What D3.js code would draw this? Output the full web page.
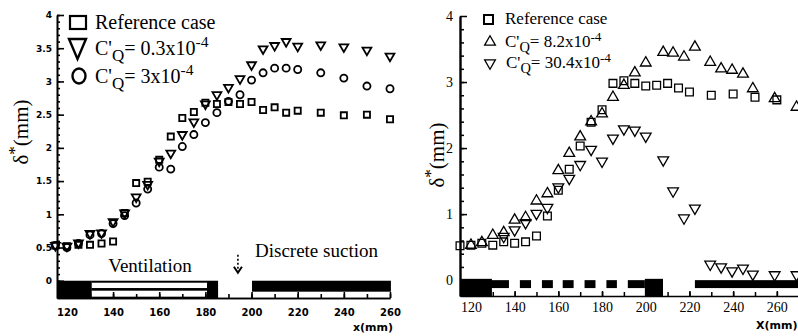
<!DOCTYPE html>
<html>
<head>
<meta charset="utf-8">
<script src="https://cdn.jsdelivr.net/npm/d3@7"></script>
<style>
  body { margin: 0; background: #fff; }
  svg { display: block; }
  text { fill: #000; }
</style>
</head>
<body>
<svg id="chart" width="798" height="336"></svg>
<script>
// ---- left panel data (x in mm, delta* in mm) ----
const leftX   = [115,120,125,130,135,140,145,150,155,160,165,170,175,180,185,190,195,200,205,210,215,220,230,240,250,260];
const leftRef = [0.53,0.52,0.54,0.54,0.56,0.59,1.02,1.47,1.49,1.82,2.17,2.45,2.54,2.68,2.66,2.69,2.66,2.69,2.57,2.61,2.53,2.56,2.53,2.49,2.50,2.43];
const leftCq03 = [0.53,0.52,0.57,0.71,0.72,0.89,1.02,1.26,1.45,1.80,1.92,2.20,2.39,2.66,2.80,2.91,3.04,3.25,3.49,3.54,3.60,3.53,3.55,3.52,3.47,3.38];
const leftCq3  = [0.53,0.50,0.56,0.69,0.71,0.86,0.98,1.17,1.38,1.71,1.68,2.02,2.20,2.38,2.53,2.70,2.80,3.02,3.13,3.20,3.20,3.18,3.13,3.05,2.93,2.89];
const leftYTicks = [0,0.5,1,1.5,2,2.5,3,3.5,4];
const leftXTicks = [120,140,160,180,200,220,240,260];

// plate layout on the left (mm)
const leftSolid   = [[115.7,130.8],[180.7,185.5]];
const leftVent    = [[130.8,180.7]];
const leftSuction = [[200.2,260.4]];

// ---- right panel data ----
const rightRefX = [115,120,125,130,135,140,145,150,155,160,165,170,175,180,185,190,195,200,205,210,215,220,230,240,250,260];
const rightRef  = [0.52,0.53,0.56,0.53,0.58,0.56,0.58,0.67,0.97,1.36,1.68,2.03,2.39,2.58,2.98,3.02,2.98,2.94,2.95,2.98,2.91,2.85,2.80,2.82,2.77,2.73];
const rightUpX  = [120,125,130,135,140,145,150,155,160,165,170,175,180,185,190,195,200,208,212.5,217.5,222.5,229.5,234.5,239.5,244.5,249,259,269];
const rightCq82 = [0.53,0.57,0.68,0.72,0.91,0.95,1.20,1.31,1.66,1.92,2.17,2.40,2.52,2.77,2.95,3.14,3.29,3.45,3.44,3.38,3.53,3.30,3.20,3.18,3.12,2.90,2.75,2.62];
const rightDnX  = [135,140,145,150,155,160,165,170,175,180,185,190,195,200,208,212.5,217.5,222.5,229.5,234.5,239.5,244.5,249,259,269];
const rightCq304 = [0.66,0.76,0.87,1.01,1.10,1.41,1.54,1.75,1.98,1.80,2.15,2.29,2.27,2.18,1.82,1.35,0.94,1.09,0.24,0.20,0.14,0.18,0.09,0.08,0.08];
const rightYTicks = [0,1,2,3,4];
const rightXTicks = [120,140,160,180,200,220,240,260];

const rightTall = [[115,129.6],[199.6,207.9]];
const rightThin = [[115,137.4],[142.4,147.5],[152.5,157.5],[162,167],[172,177],[182,186.8],[191.8,199.6],[222.5,270]];

const svg = d3.select("#chart");
const serif = "'Liberation Serif', 'Times New Roman', serif";
const plain = d => String(d);

// scales
const xL = d3.scaleLinear().domain([115.7, 260]).range([57, 390]);
const yL = d3.scaleLinear().domain([-0.26, 4]).range([298, 15]);
const xR = d3.scaleLinear().domain([115, 270]).range([460, 798.7]);
const yR = d3.scaleLinear().domain([-0.24, 4]).range([296, 16]);

// ================= LEFT PANEL =================
let gL = svg.append("g");

// plate bars
gL.selectAll(".solid").data(leftSolid).enter().append("rect")
  .attr("x", d => xL(d[0])).attr("width", d => xL(d[1]) - xL(d[0]))
  .attr("y", yL(0)).attr("height", yL(-0.26) - yL(0)).attr("fill", "#000");
leftVent.forEach(function(v) {
  gL.append("rect").attr("x", xL(v[0])).attr("width", xL(v[1]) - xL(v[0]))
    .attr("y", yL(0)).attr("height", yL(-0.26) - yL(0)).attr("fill", "#000");
  [[-0.03,-0.11],[-0.15,-0.24]].forEach(function(s) {
    gL.append("rect").attr("x", xL(v[0])).attr("width", xL(v[1]) - xL(v[0]))
      .attr("y", yL(s[0])).attr("height", yL(s[1]) - yL(s[0])).attr("fill", "#fff");
  });
});
gL.selectAll(".suct").data(leftSuction).enter().append("rect")
  .attr("x", d => xL(d[0])).attr("width", d => xL(d[1]) - xL(d[0]))
  .attr("y", yL(0)).attr("height", yL(-0.165) - yL(0)).attr("fill", "#000");

// axes
gL.append("g").attr("transform", "translate(" + xL.range()[0] + ",0)")
  .call(d3.axisLeft(yL).tickValues(d3.range(-0.2, 4.01, 0.1)).tickSizeInner(-3).tickSizeOuter(0).tickFormat(""));
let yAxL = gL.append("g").attr("transform", "translate(" + xL.range()[0] + ",0)")
  .call(d3.axisLeft(yL).tickValues(leftYTicks).tickSizeInner(-7).tickSizeOuter(0).tickPadding(5).tickFormat(plain));
yAxL.selectAll("text").attr("font-family", "'DejaVu Sans', sans-serif").attr("font-size", 9).attr("font-weight", "bold");

gL.append("g").attr("transform", "translate(0," + yL.range()[0] + ")")
  .call(d3.axisBottom(xL).tickValues(d3.range(120, 261, 10)).tickSizeInner(-4).tickSizeOuter(0).tickFormat(""));
let xAxL = gL.append("g").attr("transform", "translate(0," + yL.range()[0] + ")")
  .call(d3.axisBottom(xL).tickValues(leftXTicks).tickSizeInner(-6).tickSizeOuter(0).tickPadding(11).tickFormat(plain));
xAxL.selectAll("text").attr("font-family", "'DejaVu Sans', sans-serif").attr("font-size", 10).attr("font-weight", "bold");
gL.selectAll(".domain, .tick line").attr("stroke", "#000").attr("stroke-width", 1.6);

// markers
const sq = d3.symbol().type(d3.symbolSquare);
const tri = d3.symbol().type(d3.symbolTriangle);
const circ = d3.symbol().type(d3.symbolCircle);

gL.selectAll(".lref").data(leftX).enter().append("path")
  .attr("d", sq.size(38)())
  .attr("transform", (d, i) => "translate(" + xL(d) + "," + yL(leftRef[i]) + ")")
  .attr("fill", "none").attr("stroke", "#000").attr("stroke-width", 1.8);
gL.selectAll(".ltri").data(leftX).enter().append("path")
  .attr("d", tri.size(34)())
  .attr("transform", (d, i) => "translate(" + xL(d) + "," + yL(leftCq03[i]) + ") rotate(180)")
  .attr("fill", "none").attr("stroke", "#000").attr("stroke-width", 1.8);
gL.selectAll(".lcirc").data(leftX).enter().append("path")
  .attr("d", circ.size(40)())
  .attr("transform", (d, i) => "translate(" + xL(d) + "," + yL(leftCq3[i]) + ")")
  .attr("fill", "none").attr("stroke", "#000").attr("stroke-width", 1.8);

// annotations
gL.append("text").attr("x", xL(156)).attr("y", yL(0.13)).attr("text-anchor", "middle")
  .attr("font-family", serif).attr("font-size", 19).text("Ventilation");
gL.append("text").attr("x", xL(201.5)).attr("y", yL(0.36))
  .attr("font-family", serif).attr("font-size", 19).text("Discrete suction");
// dashed arrow
let ax = xL(194.1);
gL.append("line").attr("x1", ax).attr("x2", ax).attr("y1", yL(0.39)).attr("y2", yL(0.14))
  .attr("stroke", "#000").attr("stroke-width", 1.6).attr("stroke-dasharray", "2,2");
gL.append("path").attr("d", "M" + (ax - 4) + "," + (yL(0.12) - 6) + "L" + ax + "," + yL(0.12) + "L" + (ax + 4) + "," + (yL(0.12) - 6))
  .attr("fill", "none").attr("stroke", "#000").attr("stroke-width", 2);

gL.append("text").attr("x", 353).attr("y", 331).attr("font-family", "'DejaVu Sans', sans-serif")
  .attr("font-size", 11).attr("font-weight", "bold").text("x(mm)");

// y label
let ylabL = gL.append("text").attr("transform", "translate(28,132) rotate(-90)").attr("text-anchor", "middle")
  .attr("font-family", serif).attr("font-size", 21);
ylabL.append("tspan").text("δ");
ylabL.append("tspan").attr("dy", -8).attr("font-size", 17).text("*");
ylabL.append("tspan").attr("dy", 8).text("(mm)");

// legend helper: C'Q = value x10^-4
function cqText(g, x, y, size, val) {
  let t = g.append("text").attr("x", x).attr("y", y).attr("font-family", serif).attr("font-size", size);
  t.append("tspan").text("C'");
  t.append("tspan").attr("dy", size * 0.3).attr("font-size", size * 0.85).text("Q");
  t.append("tspan").attr("dy", -size * 0.3).text("= " + val + "x10");
  t.append("tspan").attr("dy", -size * 0.38).attr("font-size", size * 0.78).text("-4");
}

// left legend
gL.append("rect").attr("x", 70).attr("y", 16).attr("width", 16).attr("height", 13)
  .attr("fill", "none").attr("stroke", "#000").attr("stroke-width", 2.2);
gL.append("path").attr("d", "M69,39L86,39L77.5,59Z").attr("fill", "none").attr("stroke", "#000").attr("stroke-width", 2.4);
gL.append("ellipse").attr("cx", 79).attr("cy", 76).attr("rx", 6.5).attr("ry", 7.5)
  .attr("fill", "none").attr("stroke", "#000").attr("stroke-width", 2.4);
gL.append("text").attr("x", 95).attr("y", 29).attr("font-family", serif).attr("font-size", 20).text("Reference case");
cqText(gL, 95, 55, 20, "0.3");
cqText(gL, 95, 83, 20, "3");

// ================= RIGHT PANEL =================
let gR = svg.append("g");

gR.selectAll(".thin").data(rightThin).enter().append("rect")
  .attr("x", d => xR(d[0])).attr("width", d => xR(d[1]) - xR(d[0]))
  .attr("y", yR(0.0)).attr("height", yR(-0.12) - yR(0.0)).attr("fill", "#000");
gR.selectAll(".tall").data(rightTall).enter().append("rect")
  .attr("x", d => xR(d[0])).attr("width", d => xR(d[1]) - xR(d[0]))
  .attr("y", yR(0.02)).attr("height", yR(-0.24) - yR(0.02)).attr("fill", "#000");

gR.append("g").attr("transform", "translate(" + xR.range()[0] + ",0)")
  .call(d3.axisLeft(yR).tickValues(d3.range(0.2, 4, 0.2)).tickSizeInner(-4).tickSizeOuter(0).tickFormat(""));
let yAxR = gR.append("g").attr("transform", "translate(" + xR.range()[0] + ",0)")
  .call(d3.axisLeft(yR).tickValues(rightYTicks).tickSizeInner(-7).tickSizeOuter(0).tickPadding(7).tickFormat(plain));
yAxR.selectAll("text").attr("font-family", serif).attr("font-size", 14);
yAxR.select(".domain").attr("stroke-width", 2.4);

gR.append("g").attr("transform", "translate(0," + yR.range()[0] + ")")
  .call(d3.axisBottom(xR).tickValues(d3.range(120, 271, 10)).tickSizeInner(-4).tickSizeOuter(0).tickFormat(""));
let xAxR = gR.append("g").attr("transform", "translate(0," + yR.range()[0] + ")")
  .call(d3.axisBottom(xR).tickValues(rightXTicks).tickSizeInner(-5).tickSizeOuter(0).tickPadding(6).tickFormat(plain));
xAxR.selectAll("text").attr("font-family", serif).attr("font-size", 14);
gR.selectAll(".tick line").attr("stroke", "#000").attr("stroke-width", 1.5);
gR.selectAll(".domain").attr("stroke", "#000");
xAxR.select(".domain").attr("stroke-width", 1.6);

gR.selectAll(".rref").data(rightRefX).enter().append("path")
  .attr("d", sq.size(60)())
  .attr("transform", (d, i) => "translate(" + xR(d) + "," + yR(rightRef[i]) + ")")
  .attr("fill", "none").attr("stroke", "#000").attr("stroke-width", 1.3);
gR.selectAll(".rup").data(rightUpX).enter().append("path")
  .attr("d", tri.size(50)())
  .attr("transform", (d, i) => "translate(" + xR(d) + "," + yR(rightCq82[i]) + ")")
  .attr("fill", "none").attr("stroke", "#000").attr("stroke-width", 1.3);
gR.selectAll(".rdn").data(rightDnX).enter().append("path")
  .attr("d", tri.size(50)())
  .attr("transform", (d, i) => "translate(" + xR(d) + "," + yR(rightCq304[i]) + ") rotate(180)")
  .attr("fill", "none").attr("stroke", "#000").attr("stroke-width", 1.3);

// right legend
gR.append("rect").attr("x", 484).attr("y", 15).attr("width", 9).attr("height", 9)
  .attr("fill", "none").attr("stroke", "#000").attr("stroke-width", 2);
gR.append("path").attr("d", tri.size(50)()).attr("transform", "translate(490,42)")
  .attr("fill", "none").attr("stroke", "#000").attr("stroke-width", 1.3);
gR.append("path").attr("d", tri.size(50)()).attr("transform", "translate(490,63) rotate(180)")
  .attr("fill", "none").attr("stroke", "#000").attr("stroke-width", 1.3);
gR.append("text").attr("x", 505).attr("y", 24).attr("font-family", serif).attr("font-size", 17).text("Reference case");
cqText(gR, 505, 47, 17, "8.2");
cqText(gR, 506, 68, 17, "30.4");

gR.append("text").attr("x", 756).attr("y", 329).attr("font-family", "'DejaVu Sans', sans-serif")
  .attr("font-size", 11).attr("font-weight", "bold").text("X(mm)");

let ylabR = gR.append("text").attr("transform", "translate(444,155) rotate(-90)").attr("text-anchor", "middle")
  .attr("font-family", serif).attr("font-size", 21);
ylabR.append("tspan").text("δ");
ylabR.append("tspan").attr("dy", -8).attr("font-size", 17).text("*");
ylabR.append("tspan").attr("dy", 8).text("(mm)");
</script>
</body>
</html>
